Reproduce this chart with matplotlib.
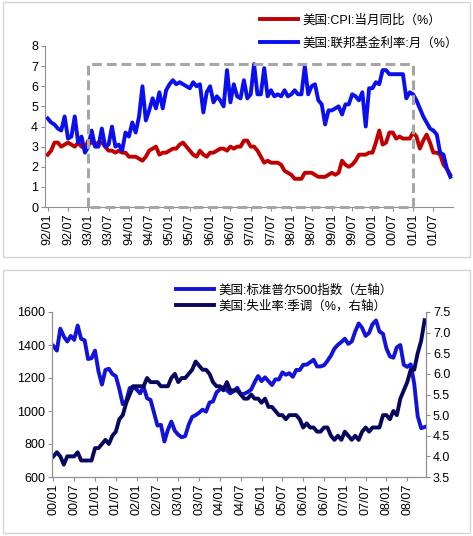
import matplotlib
matplotlib.use("Agg")
import matplotlib.pyplot as plt
from matplotlib.patches import Rectangle
import numpy as np

plt.rcParams['font.family'] = ['Liberation Sans', 'Noto Sans CJK SC', 'DejaVu Sans']

# ---------------- Top panel data (monthly, 1992/01 - 2001/12) ----------------
top_ticklabels = ['92/01', '92/07', '93/01', '93/07', '94/01', '94/07', '95/01', '95/07',
                  '96/01', '96/07', '97/01', '97/07', '98/01', '98/07', '99/01', '99/07',
                  '00/01', '00/07', '01/01', '01/07']
cpi_yoy = [2.6, 2.8, 3.2, 3.2, 3.0, 3.1, 3.2, 3.1, 3.0, 3.2, 3.0, 2.9,
           3.3, 3.2, 3.1, 3.2, 3.2, 3.0, 2.8, 2.8, 2.7, 2.8, 2.7, 2.7,
           2.5, 2.5, 2.5, 2.4, 2.3, 2.5, 2.8, 2.9, 3.0, 2.6, 2.7, 2.7,
           2.8, 2.9, 2.9, 3.1, 3.2, 3.0, 2.8, 2.6, 2.5, 2.8, 2.6, 2.5,
           2.7, 2.7, 2.8, 2.9, 2.9, 2.8, 3.0, 2.9, 3.0, 3.0, 3.3, 3.3,
           3.0, 3.0, 2.8, 2.5, 2.2, 2.3, 2.2, 2.2, 2.2, 2.1, 1.8, 1.7,
           1.6, 1.4, 1.4, 1.4, 1.7, 1.7, 1.7, 1.6, 1.5, 1.5, 1.5, 1.6,
           1.7, 1.6, 1.7, 2.3, 2.1, 2.0, 2.1, 2.3, 2.6, 2.6, 2.6, 2.7,
           2.7, 3.2, 3.8, 3.1, 3.2, 3.7, 3.7, 3.4, 3.5, 3.4, 3.4, 3.4,
           3.7, 3.5, 2.9, 3.3, 3.6, 3.2, 2.7, 2.7, 2.6, 2.1, 1.9, 1.6]
fed_funds = [4.4, 4.2, 4.1, 3.9, 3.8, 4.5, 3.4, 3.5, 4.5, 3.2, 3.5, 2.7,
             3.0, 3.8, 3.0, 3.0, 3.9, 3.0, 3.1, 4.0, 3.0, 3.1, 2.8, 3.7,
             3.5, 4.2, 3.7, 4.5, 6.0, 4.3, 4.8, 5.4, 4.9, 5.7, 4.9, 5.8,
             6.1, 6.3, 6.1, 6.2, 6.1, 6.0, 5.9, 6.2, 6.0, 6.1, 4.7, 5.7,
             6.0, 5.2, 5.5, 5.3, 5.0, 6.8, 5.2, 6.1, 5.5, 5.4, 6.3, 5.4,
             5.6, 7.1, 5.6, 5.6, 6.9, 5.5, 5.8, 5.5, 5.6, 5.5, 5.8, 5.5,
             5.6, 5.8, 5.6, 5.6, 7.0, 5.6, 6.0, 6.1, 5.3, 5.1, 4.1, 4.8,
             4.8, 4.9, 5.0, 4.6, 5.1, 5.1, 5.6, 5.5, 5.3, 5.7, 4.0, 5.9,
             5.9, 6.2, 6.1, 6.8, 6.8, 6.6, 6.6, 6.6, 6.6, 6.6, 5.4, 5.7,
             5.6, 5.3, 4.9, 4.5, 4.2, 3.9, 3.8, 3.6, 2.7, 2.6, 1.9, 1.5]
top_box = [12, 108, 0, 7.1]  # month index start/end, value bottom/top

# ---------------- Bottom panel data (monthly, 2000/01 - 2008/12) ----------------
bot_ticklabels = ['00/01', '00/07', '01/01', '01/07', '02/01', '02/07', '03/01', '03/07',
                  '04/01', '04/07', '05/01', '05/07', '06/01', '06/07', '07/01', '07/07',
                  '08/01', '08/07']
sp500 = [1394, 1366, 1499, 1452, 1421, 1455, 1431, 1518, 1437, 1429, 1315, 1320,
         1366, 1240, 1160, 1249, 1256, 1224, 1211, 1134, 1041, 1060, 1139, 1148,
         1130, 1107, 1147, 1077, 1067, 990, 912, 916, 815, 886, 936, 880,
         856, 841, 848, 917, 964, 975, 990, 1008, 996, 1051, 1058, 1112,
         1131, 1145, 1126, 1107, 1121, 1141, 1102, 1104, 1115, 1130, 1174, 1212,
         1181, 1204, 1181, 1157, 1192, 1191, 1234, 1220, 1229, 1207, 1249, 1248,
         1280, 1281, 1295, 1311, 1270, 1270, 1277, 1304, 1336, 1378, 1401, 1418,
         1438, 1407, 1421, 1482, 1531, 1503, 1455, 1474, 1527, 1549, 1481, 1468,
         1379, 1331, 1323, 1386, 1400, 1280, 1267, 1283, 1166, 969, 896, 903]
unemp = [4.0, 4.1, 4.0, 3.8, 4.0, 4.0, 4.0, 4.1, 3.9, 3.9, 3.9, 3.9,
         4.2, 4.2, 4.3, 4.4, 4.3, 4.5, 4.6, 4.9, 5.0, 5.3, 5.5, 5.7,
         5.7, 5.7, 5.7, 5.9, 5.8, 5.8, 5.8, 5.7, 5.7, 5.7, 5.9, 6.0,
         5.8, 5.9, 5.9, 6.0, 6.1, 6.3, 6.2, 6.1, 6.1, 6.0, 5.8, 5.7,
         5.7, 5.6, 5.8, 5.6, 5.6, 5.6, 5.5, 5.4, 5.4, 5.5, 5.4, 5.4,
         5.3, 5.4, 5.2, 5.2, 5.1, 5.0, 5.0, 4.9, 5.0, 5.0, 5.0, 4.9,
         4.7, 4.8, 4.7, 4.7, 4.6, 4.6, 4.7, 4.7, 4.5, 4.4, 4.5, 4.4,
         4.6, 4.5, 4.4, 4.5, 4.4, 4.6, 4.7, 4.6, 4.7, 4.7, 4.7, 5.0,
         5.0, 4.9, 5.1, 5.0, 5.4, 5.6, 5.8, 6.1, 6.1, 6.5, 6.8, 7.3]

W, H = 473, 536
fig = plt.figure(figsize=(W / 100, H / 100), dpi=100)

# panel borders
for (x0, y0, x1, y1) in [(3, 2, 470, 257), (3, 270, 470, 533)]:
    fig.patches.append(Rectangle((x0 / W, 1 - y1 / H), (x1 - x0) / W, (y1 - y0) / H,
                                 transform=fig.transFigure, fill=False,
                                 edgecolor='#d4d4d4', linewidth=1.0))

spine_c = '#909090'
tick_fs = 9
leg_fs = 9
lw = 2.8

# ---------------- Top axes ----------------
ax1 = fig.add_axes([45 / W, 1 - 207 / H, 408 / W, 161 / H])
x1 = np.arange(len(cpi_yoy))
l_cpi, = ax1.plot(x1, cpi_yoy, color='#c00000', lw=lw, label='美国:CPI:当月同比（%）',
                  solid_joinstyle='round')
l_ff, = ax1.plot(x1, fed_funds, color='#0a0ff0', lw=lw, label='美国:联邦基金利率:月（%）',
                 solid_joinstyle='round')
bx0, bx1, by0, by1 = top_box
ax1.plot([bx0, bx0, bx1, bx1, bx0], [by0, by1, by1, by0, by0], color='#a6a6a6', lw=2.2,
         linestyle=(0, (3.2, 1.6)), clip_on=False, zorder=3)
ax1.set_xlim(-0.8, 119.8)
ax1.set_ylim(0, 8)
ax1.set_yticks(range(0, 9))
ax1.set_xticks(np.arange(0, 120, 6))
ax1.set_xticklabels(top_ticklabels, rotation=90)
for s in ['top', 'right']:
    ax1.spines[s].set_visible(False)
for s in ['left', 'bottom']:
    ax1.spines[s].set_color(spine_c)
    ax1.spines[s].set_linewidth(0.8)
ax1.tick_params(axis='both', labelsize=tick_fs, colors='#000000', length=3, width=0.8,
                color=spine_c, pad=2)

ax1.legend(handles=[l_cpi, l_ff], loc='upper left', bbox_to_anchor=(254 / W, 1 - 8 / H),
           bbox_transform=fig.transFigure, frameon=False,
           handlelength=3.0, handletextpad=0.35, labelspacing=0.85, borderpad=0,
           prop={'family': ['Liberation Sans', 'Noto Sans CJK SC'], 'size': leg_fs})

# ---------------- Bottom axes ----------------
ax2 = fig.add_axes([52 / W, 1 - 477 / H, 374 / W, 165 / H])
ax3 = ax2.twinx()
x2 = np.arange(len(sp500))
l_sp, = ax2.plot(x2, sp500, color='#1212d8', lw=lw, label='美国:标准普尔500指数（左轴）',
                 solid_joinstyle='round')
l_un, = ax3.plot(x2, unemp, color='#07075e', lw=lw, label='美国:失业率:季调（%，右轴）',
                 solid_joinstyle='round')
ax2.set_xlim(-0.4, 107.4)
ax2.set_ylim(600, 1600)
ax2.set_yticks(range(600, 1601, 200))
ax3.set_ylim(3.5, 7.5)
ax3.set_yticks(np.arange(3.5, 7.51, 0.5))
ax3.set_yticklabels([f'{v:.1f}' for v in np.arange(3.5, 7.51, 0.5)])
ax2.set_xticks(np.arange(0, 108, 6))
ax2.set_xticklabels(bot_ticklabels, rotation=90)
for a in (ax2, ax3):
    a.spines['top'].set_visible(False)
    for s in ['left', 'right', 'bottom']:
        a.spines[s].set_color(spine_c)
        a.spines[s].set_linewidth(0.8)
    a.tick_params(axis='both', labelsize=tick_fs, colors='#000000', length=3, width=0.8,
                  color=spine_c, pad=2)

ax2.legend(handles=[l_sp, l_un], loc='upper left', bbox_to_anchor=(170 / W, 1 - 278 / H),
           bbox_transform=fig.transFigure, frameon=False,
           handlelength=3.0, handletextpad=0.35, labelspacing=0.3, borderpad=0,
           prop={'family': ['Liberation Sans', 'Noto Sans CJK SC'], 'size': leg_fs})

fig.savefig('out.png', dpi=100)
